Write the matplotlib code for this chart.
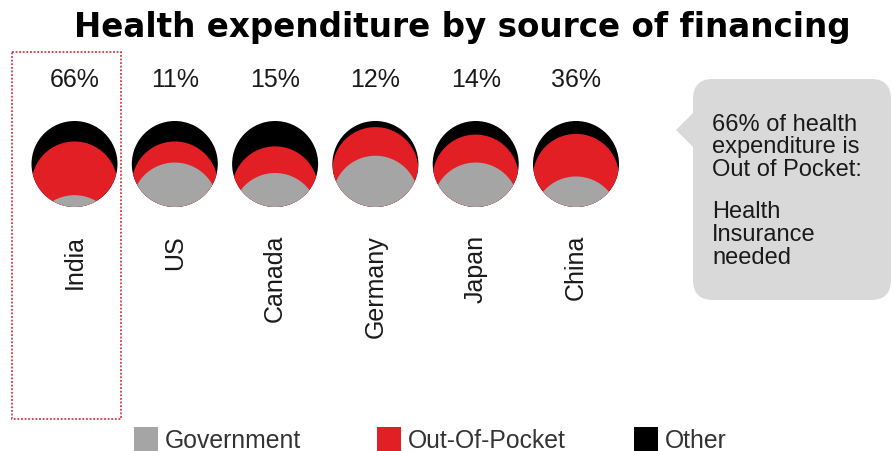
import numpy as np
import matplotlib
matplotlib.use("Agg")
import matplotlib.pyplot as plt
from matplotlib.patches import Circle, Rectangle, FancyBboxPatch, Polygon

# ---------------- data ----------------
countries = ["India", "US", "Canada", "Germany", "Japan", "China"]
oop_label = [66, 11, 15, 12, 14, 36]          # printed Out-of-Pocket share (%)
# area shares of each circle as drawn (%)
gov_share = [6, 41, 28, 50, 41, 24]
oop_share = [64, 29, 35, 41, 39, 57]
other_share = [30, 30, 37, 9, 20, 19]
legend_labels = ["Government", "Out-Of-Pocket", "Other"]
title = "Health expenditure by source of financing"
note_lines_1 = ["66% of health", "expenditure is", "Out of Pocket:"]
note_lines_2 = ["Health", "Insurance", "needed"]

# ---------------- style ----------------
C_GOV = "#a5a5a5"
C_OOP = "#e31f26"
C_OTH = "#000000"
C_BUBBLE = "#d9d9d9"
plt.rcParams["font.family"] = ["Liberation Sans", "DejaVu Sans"]

W, H = 893, 452
fig = plt.figure(figsize=(W / 100, H / 100), dpi=100)

# overlay axes in pixel coordinates (for title, note, legend, highlight box)
ov = fig.add_axes([0, 0, 1, 1])
ov.set_xlim(0, W)
ov.set_ylim(H, 0)
ov.axis("off")

# circle axes: category index on x, equal pixel scaling on both axes
ppu = 100.3      # pixels per category step
x0 = 74.5        # pixel x of first category
yc = 165.0       # pixel y of circle centres
left_px = x0 - 0.5 * ppu
ax = fig.add_axes([left_px / W, (H - (yc + ppu)) / H, 6 * ppu / W, 2 * ppu / H])
ax.set_xlim(-0.5, 5.5)
ax.set_ylim(-1, 1)
ax.axis("off")

def py(ypix):
    return (yc - ypix) / ppu

R = 43.0 / ppu


def lens_offset(frac):
    """centre distance (unit radius) so two equal circles overlap in `frac` of the area"""
    lo, hi = 0.0, 2.0
    for _ in range(60):
        d = 0.5 * (lo + hi)
        a = (2 * np.arccos(d / 2) - (d / 2) * np.sqrt(4 - d * d)) / np.pi
        if a > frac:
            lo = d
        else:
            hi = d
    return 0.5 * (lo + hi)


for i, c in enumerate(countries):
    base = Circle((i, 0), R, fc=C_OTH, ec="none")
    ax.add_patch(base)
    tot = gov_share[i] + oop_share[i] + other_share[i]
    f_red = (gov_share[i] + oop_share[i]) / tot
    f_gov = gov_share[i] / tot
    d_red = lens_offset(f_red) * R
    d_gov = lens_offset(f_gov) * R
    red = Circle((i, -d_red), R, fc=C_OOP, ec="none")
    ax.add_patch(red)
    red.set_clip_path(base)
    gov = Circle((i, -d_gov), R, fc=C_GOV, ec="none")
    ax.add_patch(gov)
    gov.set_clip_path(base)
    ax.text(i, py(86.7), f"{oop_label[i]}%", ha="center", va="baseline",
            fontsize=18, color="#1a1a1a")
    ax.text(i, py(235), c, ha="center", va="top", rotation=90,
            fontsize=18, color="#1a1a1a")

# title
ov.text(462.5, 36.5, title, ha="center", va="baseline", fontsize=23.5,
        fontweight="bold", color="black", family="DejaVu Sans")

# highlight box around India
ov.add_patch(Rectangle((12.3, 53.3), 108.4, 366.7, fill=False, ec="#d33a40",
                       lw=1.3, ls=(0, (1, 1))))

# speech bubble
ov.add_patch(FancyBboxPatch((693, 80), 198, 221,
                            boxstyle="round,pad=0,rounding_size=20",
                            fc=C_BUBBLE, ec="none"))
ov.add_patch(Polygon([(694, 113), (676, 131), (694, 149)], closed=True,
                     fc=C_BUBBLE, ec="none"))
for k, line in enumerate(note_lines_1):
    ov.text(712, 130.7 + 22.7 * k, line, ha="left", va="baseline",
            fontsize=17, color="#1a1a1a")
for k, line in enumerate(note_lines_2):
    ov.text(712, 218.3 + 22.7 * k, line, ha="left", va="baseline",
            fontsize=17, color="#1a1a1a")

# legend
leg_x = [134, 377, 634]
for lx, lab, col in zip(leg_x, legend_labels, [C_GOV, C_OOP, C_OTH]):
    ov.add_patch(Rectangle((lx, 428), 23.5, 24, fc=col, ec="none"))
    ov.text(lx + 31, 448, lab, ha="left", va="baseline", fontsize=17.8,
            color="#333333")

fig.savefig("out.png", dpi=100)
